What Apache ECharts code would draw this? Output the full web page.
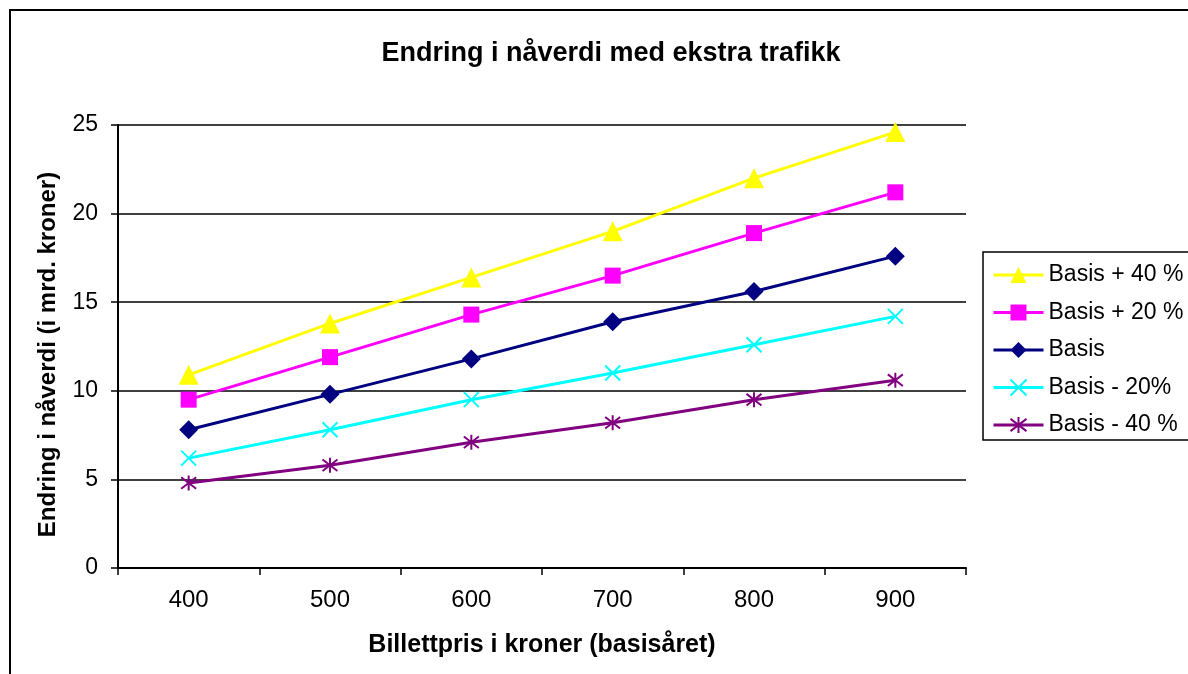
<!DOCTYPE html>
<html>
<head>
<meta charset="utf-8">
<style>
  html, body { margin: 0; padding: 0; background: #fff; }
  #chart { width: 1188px; height: 674px; }
</style>
<script src="https://cdn.jsdelivr.net/npm/echarts@6/dist/echarts.min.js"></script>
</head>
<body>
<div id="chart"></div>
<script>
// Billettpris (kroner) på x-aksen
const prices = ['400', '500', '600', '700', '800', '900'];

// Endring i nåverdi (mrd. kroner) per scenario
const basisPluss40 = [10.9, 13.8, 16.4, 19.0, 22.0, 24.6];
const basisPluss20 = [9.5, 11.9, 14.3, 16.5, 18.9, 21.2];
const basis = [7.8, 9.8, 11.8, 13.9, 15.6, 17.6];
const basisMinus20 = [6.2, 7.8, 9.5, 11.0, 12.6, 14.2];
const basisMinus40 = [4.8, 5.8, 7.1, 8.2, 9.5, 10.6];

const seriesNames = ['Basis + 40 %', 'Basis + 20 %', 'Basis', 'Basis - 20%', 'Basis - 40 %'];

const FONT = '"Liberation Sans", Arial, sans-serif';

// Stroke-only marker shapes
const crossPath = 'path://M0,0L10,10M10,0L0,10';
const starPath = 'path://M0,0L10,10M10,0L0,10M5,-1.5L5,11.5';

function lineSeries(name, data, color, symbol, size, stroked) {
  return {
    name: name,
    type: 'line',
    data: data,
    symbol: symbol,
    symbolSize: size,
    showAllSymbol: true,
    lineStyle: { color: color, width: 3 },
    itemStyle: stroked
      ? { color: color, borderColor: color, borderWidth: 2 }
      : { color: color, borderWidth: 0 },
    emphasis: { disabled: true },
    animation: false
  };
}

const chart = echarts.init(document.getElementById('chart'));
chart.setOption({
  backgroundColor: '#fff',
  animation: false,
  textStyle: { fontFamily: FONT },
  title: {
    text: 'Endring i nåverdi med ekstra trafikk',
    left: 606,
    top: 35,
    textAlign: 'center',
    textStyle: { fontFamily: FONT, fontSize: 27, fontWeight: 'bold', color: '#000' }
  },
  graphic: [{
    type: 'rect',
    shape: { x: 10, y: 10, width: 1200, height: 700 },
    style: { fill: 'none', stroke: '#000', lineWidth: 2 },
    silent: true,
    z: -1
  }],
  legend: {
    orient: 'vertical',
    left: 983,
    top: 252,
    padding: [11, 60, 3, 9],
    itemWidth: 50,
    itemHeight: 20,
    itemGap: 13.5,
    itemTextGap: 7,
    lineStyle: { width: 3 },
    backgroundColor: '#fff',
    borderColor: '#000',
    borderWidth: 1.5,
    textStyle: { fontFamily: FONT, fontSize: 23, color: '#000', lineHeight: 24 },
    data: seriesNames
  },
  grid: { left: 118, right: 222, top: 125, bottom: 106 },
  xAxis: {
    type: 'category',
    data: prices,
    boundaryGap: true,
    name: 'Billettpris i kroner (basisåret)',
    nameLocation: 'middle',
    nameGap: 65,
    nameTextStyle: { fontFamily: FONT, fontSize: 25, fontWeight: 'bold', color: '#000' },
    axisLine: { lineStyle: { color: '#000', width: 2 } },
    axisTick: { show: true, inside: false, length: 7, alignWithLabel: false, lineStyle: { color: '#000', width: 1.5 } },
    axisLabel: { fontFamily: FONT, fontSize: 24, color: '#000', margin: 20 },
    splitLine: { show: false }
  },
  yAxis: {
    type: 'value',
    min: 0,
    max: 25,
    interval: 5,
    name: 'Endring i nåverdi (i mrd. kroner)',
    nameLocation: 'middle',
    nameGap: 58,
    nameRotate: 90,
    nameTextStyle: { fontFamily: FONT, fontSize: 24, fontWeight: 'bold', color: '#000', padding: [0, 16, 0, 0] },
    axisLine: { show: true, lineStyle: { color: '#000', width: 2 } },
    axisTick: { show: true, inside: false, length: 7, lineStyle: { color: '#000', width: 1.5 } },
    axisLabel: { fontFamily: FONT, fontSize: 23, color: '#000', margin: 20 },
    splitLine: { show: true, lineStyle: { color: '#000', width: 1.5 } }
  },
  series: [
    lineSeries(seriesNames[0], basisPluss40, '#FFFF00', 'triangle', 20, false),
    lineSeries(seriesNames[1], basisPluss20, '#FF00FF', 'rect', 16, false),
    lineSeries(seriesNames[2], basis, '#000080', 'diamond', 19, false),
    lineSeries(seriesNames[3], basisMinus20, '#00FFFF', crossPath, 15, true),
    lineSeries(seriesNames[4], basisMinus40, '#800080', starPath, 15, true)
  ]
});
</script>
</body>
</html>
